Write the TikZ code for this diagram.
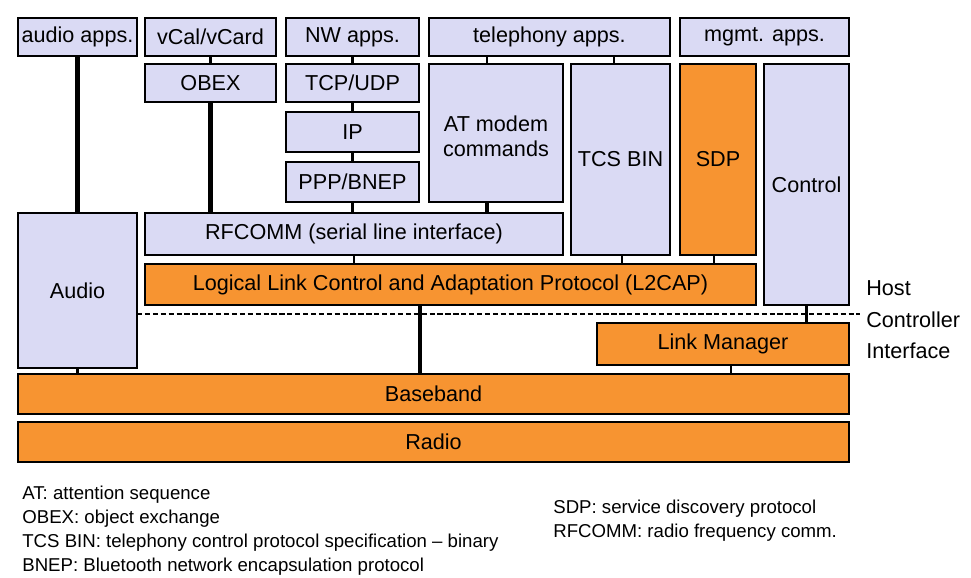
\documentclass[tikz,border=0pt]{standalone}
\usepackage{fontspec}
\setmainfont{Liberation Sans}
\begin{document}
\begin{tikzpicture}[x=0.02cm,y=-0.02cm,
 bxs/.style={draw=black,line width=1.3pt,inner sep=0pt,outer sep=0pt,align=center,font=\fontsize{12.3}{14}\selectfont},
 lav/.style={bxs,fill={rgb,255:red,218;green,218;blue,244}},
 org/.style={bxs,fill={rgb,255:red,247;green,148;blue,49}},
 con/.style={line width=1.5pt},
 thk/.style={line width=2.8pt},
 note/.style={font=\fontsize{10.6}{13.5}\selectfont,align=left,anchor=north west,inner sep=0pt}]
\useasboundingbox (0,0) rectangle (971,578);
\newcommand{\Bx}[7]{\node[#1,minimum width={(#5-#3)*0.02cm},minimum height={(#6-#4)*0.02cm}] (#2) at ({(#3+#5)/2},{(#4+#6)/2}) {#7};}
\Bx{lav}{aa}{18}{18}{137}{56}{audio apps.}
\Bx{lav}{vc}{145}{18}{276}{56}{vCal/vCard}
\Bx{lav}{nw}{286}{18}{419}{56}{NW apps.}
\Bx{lav}{tel}{429}{18}{670}{56}{telephony apps.}
\Bx{lav}{mg}{680}{18}{849}{56}{mgmt. apps.}
\Bx{lav}{ob}{145}{64}{276}{102}{OBEX}
\Bx{lav}{tcp}{286}{64}{419}{102}{TCP/UDP}
\Bx{lav}{ip}{286}{112}{419}{152}{IP}
\Bx{lav}{ppp}{286}{162}{419}{202}{PPP/BNEP}
\Bx{lav}{at}{429}{64}{563}{202}{}
\node[font=\fontsize{12.3}{14}\selectfont,align=center] at (496,136) {AT modem\\commands};
\Bx{lav}{tcs}{571}{64}{670}{255}{TCS BIN}
\Bx{org}{sdp}{680}{64}{756}{255}{SDP}
\Bx{lav}{ctl}{764}{64}{849}{305}{Control}
\Bx{lav}{au}{18}{213}{137}{368}{Audio}
\Bx{lav}{rf}{145}{213}{563}{255}{RFCOMM (serial line interface)}
\Bx{org}{l2}{145}{264}{756}{305}{Logical Link Control and Adaptation Protocol (L2CAP)}
\Bx{org}{lm}{597}{323}{849}{365}{Link Manager}
\Bx{org}{bb}{18}{374}{849}{414}{Baseband}
\Bx{org}{ra}{18}{422}{849}{462}{Radio}
% connectors
\draw[thk] (aa.south) -- (aa.south |- au.north);
\draw[thk] (ob.south) -- (ob.south |- rf.north);
\draw[thk] (420,0 |- l2.south) -- (420,0 |- bb.north);
\draw[con] (vc.south) -- (ob.north);
\draw[con] (nw.south) -- (tcp.north);
\draw[con] (tcp.south) -- (ip.north);
\draw[con] (ip.south) -- (ppp.north);
\draw[con] (487,0 |- tel.south) -- (487,0 |- at.north);
\draw[con] (614,0 |- tel.south) -- (614,0 |- tcs.north);
\draw[thk] (487,0 |- at.south) -- (487,0 |- rf.north);
\draw[con] (ppp.south) -- (ppp.south |- rf.north);
\draw[con] (354,0 |- rf.south) -- (354,0 |- l2.north);
\draw[con] (622,0 |- tcs.south) -- (622,0 |- l2.north);
\draw[con] (714,0 |- sdp.south) -- (714,0 |- l2.north);
\draw[con] (au.south) -- (au.south |- bb.north);
\draw[con] (ctl.south) -- (ctl.south |- lm.north);
\draw[con] (731,0 |- lm.south) -- (731,0 |- bb.north);
\coordinate (hl) at (au.east |- 0,314);
\coordinate (hr) at (860,314);
\draw[line width=1pt,dash pattern=on 3pt off 1.5pt] (hl) -- (hr);
\node[font=\fontsize{12.3}{14}\selectfont,align=left,anchor=west,inner sep=0pt] (hci) at (866,320) {Host\\[4pt]Controller\\[4pt]Interface};
\node[note] (n1) at (22,486)
 {AT: attention sequence\\OBEX: object exchange\\TCS BIN: telephony control protocol specification -- binary\\BNEP: Bluetooth network encapsulation protocol};
\node[note] (n2) at (553,500)
 {SDP: service discovery protocol\\RFCOMM: radio frequency comm.};
\end{tikzpicture}
\end{document}
